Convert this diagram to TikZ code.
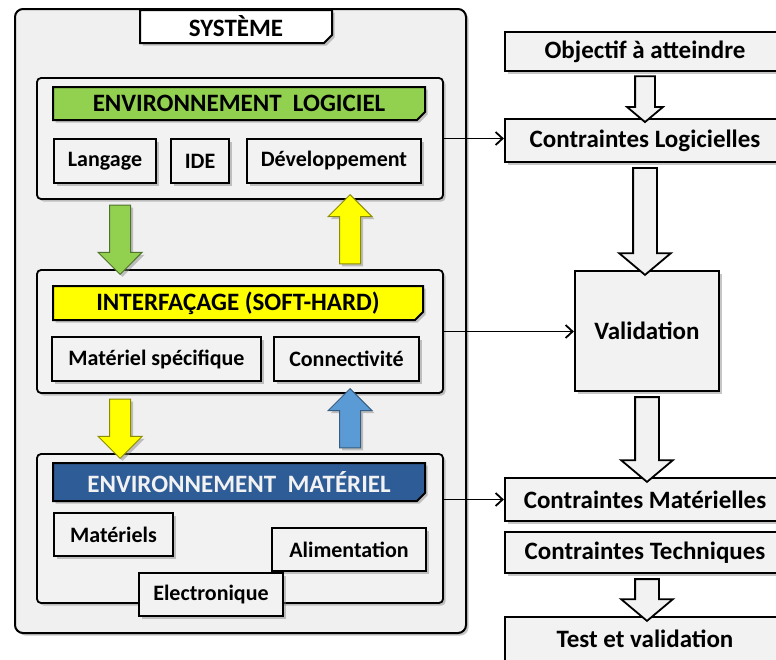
\documentclass[tikz,border=0pt]{standalone}
\usepackage{fontspec}
\setmainfont{Carlito}
\usetikzlibrary{shapes.arrows,shapes.misc,shadows,calc,arrows.meta}

\definecolor{panelgray}{HTML}{F0F0F0}
\definecolor{boxgray}{HTML}{F2F2F2}
\definecolor{logigreen}{HTML}{92D050}
\definecolor{interyellow}{HTML}{FFFF00}
\definecolor{matblue}{HTML}{2E5C96}
\definecolor{arrowblue}{HTML}{5B9BD5}

\newcommand\blockarrow[3]{\path let \p1=(#2), \p2=(#3), \n1={veclen(\x2-\x1,\y2-\y1)} in (\p1) -- (\p2) node[midway,sloped,allow upside down,#1,minimum height=\n1] {};}

\tikzset{
  softshadow/.style={drop shadow={shadow xshift=2.5pt,shadow yshift=-2.5pt,opacity=0.45}},
  panel/.style={draw,line width=1.8pt,rounded corners=4pt,fill=boxgray,softshadow},
  item/.style={draw,line width=2.2pt,fill=boxgray,inner sep=0pt,font=\bfseries\fontsize{22}{26}\selectfont,softshadow},
  bigitem/.style={item,font=\bfseries\fontsize{25}{30}\selectfont},
  banner/.style={chamfered rectangle,chamfered rectangle corners=south east,chamfered rectangle sep=4pt,draw,line width=2pt,inner sep=0pt,font=\bfseries\fontsize{25}{30}\selectfont,softshadow},
  colarrow/.style={single arrow,draw,line width=1pt,inner xsep=0pt,inner ysep=10pt,single arrow head extend=11.5pt,single arrow tip angle=90,softshadow},
  hollowarrow/.style={single arrow,draw=black,line width=1.8pt,fill=boxgray,inner xsep=0pt,inner ysep=11pt,single arrow head extend=14pt,single arrow tip angle=100},
  link/.style={line width=1.8pt,-{Straight Barb[length=7pt,width=13pt]}}
}

\begin{document}
\begin{tikzpicture}[x=1pt,y=-1pt]
\useasboundingbox (0,0) rectangle (776,659);

\node[panel,fill=panelgray,line width=2pt,rounded corners=8pt,minimum width=451pt,minimum height=624pt] (systeme) at (240.5,321) {};
\node[banner,fill=white,minimum width=192pt,minimum height=33pt] (titre) at (236,26.5) {SYSTÈME};

\node[panel,minimum width=406pt,minimum height=121pt] (envlog) at (240,138.5) {};
\node[banner,fill=logigreen,minimum width=372pt,minimum height=33pt] (banlog) at (239,103.5) {ENVIRONNEMENT\ \ LOGICIEL};
\node[item,minimum width=102pt,minimum height=44pt] (langage) at (105,161) {Langage};
\node[item,minimum width=58pt,minimum height=44pt] (ide) at (200,161) {IDE};
\node[item,minimum width=174pt,minimum height=44pt] (dev) at (334,161) {Développement};

\node[panel,minimum width=406pt,minimum height=123pt] (interf) at (240,331.5) {};
\node[banner,fill=interyellow,minimum width=370pt,minimum height=34pt] (baninterf) at (238,303) {INTERFAÇAGE (SOFT-HARD)};
\node[item,minimum width=209pt,minimum height=44pt] (matspec) at (156.5,359) {Matériel spécifique};
\node[item,minimum width=145pt,minimum height=44pt] (connect) at (346.5,359) {Connectivité};

\node[panel,minimum width=406pt,minimum height=149pt] (envmat) at (240,528.5) {};
\node[banner,fill=matblue,text=boxgray,minimum width=372pt,minimum height=38pt] (banmat) at (239,482) {ENVIRONNEMENT\ \ MATÉRIEL};
\node[item,minimum width=119pt,minimum height=43pt] (materiels) at (113.5,534.5) {Matériels};
\node[item,minimum width=154pt,minimum height=43pt] (alim) at (349,549.5) {Alimentation};
\node[item,minimum width=144pt,minimum height=43pt] (elec) at (211,594.5) {Electronique};

\blockarrow{colarrow,fill=logigreen,draw=logigreen!55!black}{$(envlog.south west)+(84,0)$}{$(interf.north west)+(84,0)$}
\blockarrow{colarrow,fill=interyellow,draw=interyellow!55!black}{$(interf.north west)+(314,0)$}{$(envlog.south west)+(314,0)$}
\blockarrow{colarrow,fill=interyellow,draw=interyellow!55!black}{$(interf.south west)+(84,0)$}{$(envmat.north west)+(84,0)$}
\blockarrow{colarrow,fill=arrowblue,draw=arrowblue!60!black}{$(envmat.north west)+(314,0)$}{$(interf.south west)+(314,0)$}

\node[bigitem,minimum width=280pt,minimum height=39pt] (objectif) at (645,51.5) {Objectif à atteindre};
\node[bigitem,minimum width=280pt,minimum height=43pt] (contlog) at (645,140.5) {Contraintes Logicielles};
\node[bigitem,minimum width=144pt,minimum height=120pt] (validation) at (647,331) {Validation};
\node[bigitem,minimum width=280pt,minimum height=43pt] (contmat) at (645,499.5) {Contraintes Matérielles};
\node[bigitem,minimum width=280pt,minimum height=41pt] (conttech) at (645,552.5) {Contraintes Techniques};
\node[bigitem,minimum width=280pt,minimum height=44pt] (test) at (645,639) {Test et validation};

\blockarrow{hollowarrow,inner ysep=9pt,single arrow head extend=8pt}{objectif.south}{contlog.north}
\blockarrow{hollowarrow}{contlog.south}{contlog.south |- validation.north}
\blockarrow{hollowarrow}{validation.south}{validation.south |- contmat.north}
\blockarrow{hollowarrow}{validation.south |- conttech.south}{validation.south |- test.north}

\draw[link] (envlog.east) -- (envlog.east -| contlog.west);
\draw[link] (interf.east) -- (interf.east -| validation.west);
\draw[link] (contmat.west -| envmat.east) -- (contmat.west);

\end{tikzpicture}
\end{document}
